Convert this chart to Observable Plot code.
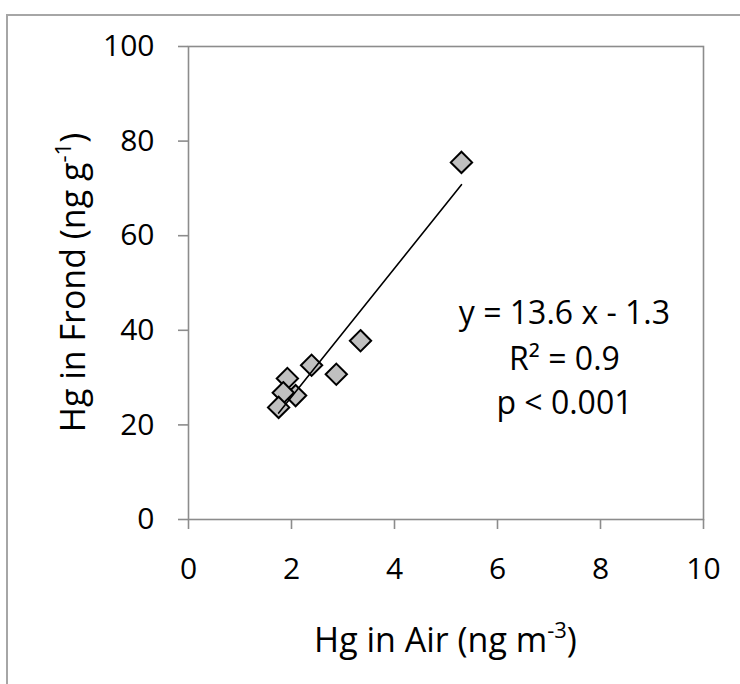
<!DOCTYPE html>
<html>
<head>
<meta charset="utf-8">
<script src="https://cdn.jsdelivr.net/npm/d3@7"></script>
<script src="https://cdn.jsdelivr.net/npm/@observablehq/plot@0.6"></script>
<style>
  html, body { margin: 0; padding: 0; background: #fff; overflow: hidden; width: 740px; height: 684px; }
  #outer { position: absolute; left: 6px; top: 14px; width: 800px; height: 800px; border: 2px solid #a6a6a6; box-sizing: border-box; }
  #chart { position: absolute; left: 0; top: 0; }
</style>
</head>
<body>
<div id="outer"></div>
<div id="chart"></div>
<script>
// Data
const airHg   = [5.30, 3.34, 2.87, 2.39, 1.92, 2.08, 1.84, 1.75];   // Hg in Air (ng m-3)
const frondHg = [75.5, 37.8, 30.7, 32.6, 29.8, 26.2, 26.8, 23.7];   // Hg in Frond (ng g-1)
const xTicks = [0, 2, 4, 6, 8, 10];
const yTicks = [0, 20, 40, 60, 80, 100];
const slope = 13.6;
const intercept = -1.3;
const statLines = ["y = 13.6 x - 1.3", "R\u00b2 = 0.9", "p < 0.001"];

const points = airHg.map((x, i) => ({x, y: frondHg[i]}));
const xExt = d3.extent(airHg);
const fit = xExt.map(x => ({x, y: slope * x + intercept}));

const statX = 7.3;
const statY = [43.5, 33.7, 24.4];

const plot = Plot.plot({
  width: 740,
  height: 684,
  marginLeft: 188,
  marginRight: 37,
  marginTop: 46,
  marginBottom: 165,
  x: {domain: [0, 10]},
  y: {domain: [0, 100]},
  style: {fontFamily: "'Open Sans', sans-serif", fontSize: "30px", color: "#000", background: "transparent", overflow: "visible"},
  marks: [
    Plot.frame({stroke: "#8c8c8c", strokeWidth: 1.6}),
    Plot.axisX({ticks: xTicks, tickSize: 10, tickPadding: 28, stroke: "#8c8c8c", strokeWidth: 1.6, fill: "#000", label: null, fontSize: 30}),
    Plot.axisY({ticks: yTicks, tickSize: 10, tickPadding: 24, stroke: "#8c8c8c", strokeWidth: 1.6, fill: "#000", label: null, fontSize: 30}),
    Plot.dot(points, {x: "x", y: "y", symbol: "diamond2", r: 9.6, fill: "#c0c0c0", stroke: "#000", strokeWidth: 2}),
    Plot.line(fit, {x: "x", y: "y", stroke: "#000", strokeWidth: 1.6}),
    Plot.text(statLines, {x: () => statX, y: (d, i) => statY[i], text: d => d, fontSize: 32, fill: "#000", textAnchor: "middle"})
  ]
});

document.getElementById("chart").appendChild(plot);

// Axis titles with superscripts
const sx = plot.scale("x"), sy = plot.scale("y");
const svg = d3.select(plot);
const cx = (sx.apply(0) + sx.apply(10)) / 2;
const cy = (sy.apply(0) + sy.apply(100)) / 2;

const xt = svg.append("text")
  .attr("x", cx).attr("y", 652)
  .attr("text-anchor", "middle")
  .attr("font-family", "'Open Sans', sans-serif")
  .attr("font-size", 34).attr("fill", "#000");
xt.append("tspan").text("Hg in Air (ng m");
xt.append("tspan").attr("font-size", 22).attr("dy", -14).text("-3");
xt.append("tspan").attr("dy", 14).text(")");

const yt = svg.append("text")
  .attr("transform", `translate(85,${cy}) rotate(-90)`)
  .attr("text-anchor", "middle")
  .attr("font-family", "'Open Sans', sans-serif")
  .attr("font-size", 34).attr("fill", "#000");
yt.append("tspan").text("Hg in Frond (ng g");
yt.append("tspan").attr("font-size", 22).attr("dy", -14).text("-1");
yt.append("tspan").attr("dy", 14).text(")");
</script>
</body>
</html>
